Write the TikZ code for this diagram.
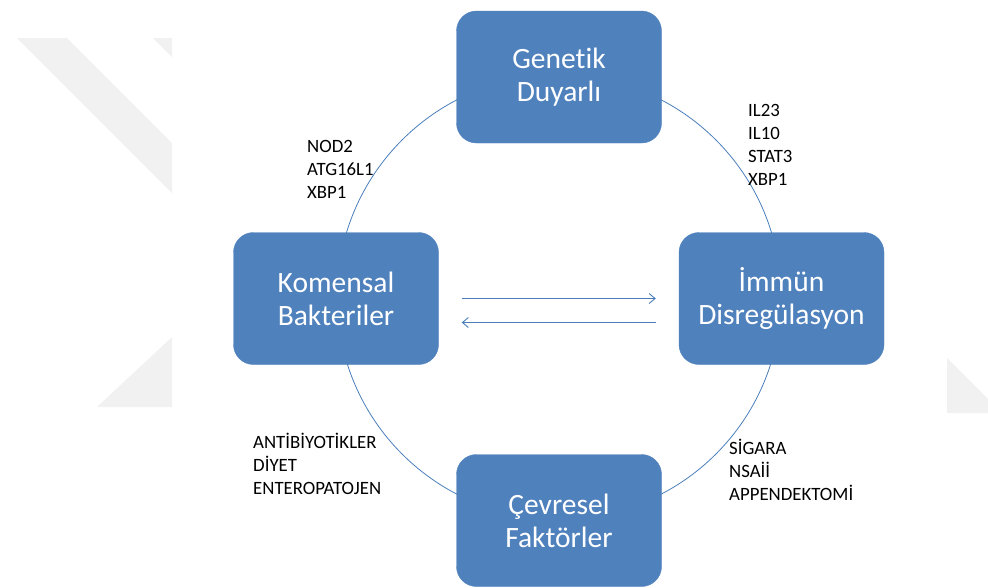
\documentclass[tikz,border=0pt]{standalone}
\usepackage{fontspec}
\setmainfont{Carlito}[Ligatures=NoCommon]
\usetikzlibrary{arrows.meta}
\definecolor{boxblue}{HTML}{4F81BD}
\definecolor{lineblue}{HTML}{4A7EBB}
\definecolor{markgray}{HTML}{F1F1F1}

\begin{document}
\begin{tikzpicture}[x=1pt,y=-1pt,
    factor/.style={rectangle,rounded corners=20pt,fill=boxblue,draw=boxblue,
        minimum width=205pt,minimum height=132pt,align=center,text=white,
        font=\fontsize{29.5}{33}\selectfont},
    genes/.style={anchor=north west,inner sep=0pt,align=left,
        font=\fontsize{18.8}{23}\selectfont},
    link/.style={lineblue,line width=0.9pt,
        -{Straight Barb[length=6pt,width=10pt]},shorten <=23pt,shorten >=23pt}]
    \useasboundingbox (0,0) rectangle (988,587);
    \fill[markgray] (17,38) -- (67,38) -- (172,143) -- (172,193) -- cycle;
    \fill[markgray] (153,38) -- (172,38) -- (172,57) -- cycle;
    \fill[markgray] (172,337) -- (172,407) -- (97,407) -- cycle;
    \fill[markgray] (947,358) -- (988,399) -- (988,413) -- (947,413) -- cycle;
    \draw[lineblue,line width=0.8pt] (559,297) circle[radius=222pt];
    \node[factor] (gen) at (559,77) {Genetik\\Duyarlı};
    \node[factor] (kom) at (336,298.5) {Komensal\\Bakteriler};
    \node[factor] (imm) at (781.5,298.5) {İmmün\\Disregülasyon};
    \node[factor] (cev) at (559,520.5) {Çevresel\\Faktörler};
    \draw[link] (kom.east) -- (imm.west);
    \draw[link] ([yshift=-24pt]imm.west) -- ([yshift=-24pt]kom.east);
    \node[genes] (gkom) at (307,140) {NOD2\\ATG16L1\\XBP1};
    \node[genes] (gimm) at (748,104) {IL23\\IL10\\STAT3\\XBP1};
    \node[genes] (ekom) at (253,433) {ANTİBİYOTİKLER\\DİYET\\ENTEROPATOJEN};
    \node[genes] (eimm) at (729,439) {SİGARA\\NSAİİ\\APPENDEKTOMİ};
\end{tikzpicture}
\end{document}
